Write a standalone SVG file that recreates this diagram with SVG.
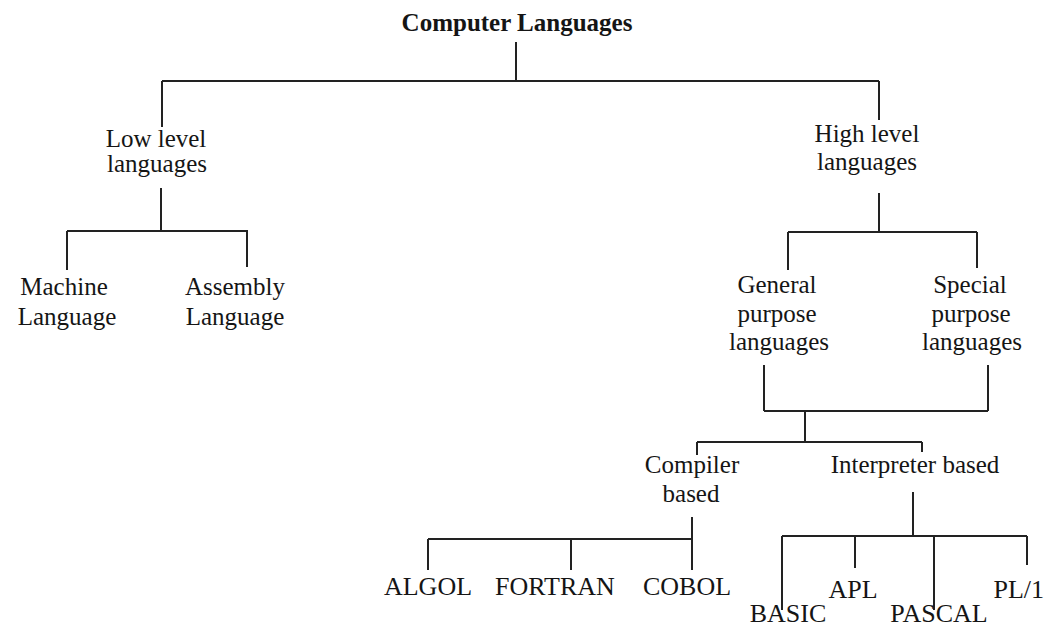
<svg xmlns="http://www.w3.org/2000/svg" width="1047" height="629" viewBox="0 0 1047 629">
<style>
  .t { font-family: "Liberation Serif", "Times New Roman", serif; font-size: 25px; fill: #151515; text-anchor: middle; }
  .b { font-weight: bold; }
  .u { font-size: 26px; }
  .e { text-anchor: end; }
  .c { fill: none; stroke: #222; stroke-width: 2; }
</style>
<rect width="1047" height="629" fill="#ffffff"/>
<g id="connectors">
  <path class="c" d="M516 42 V81 M162 81 H879 M162 81 V127 M879 81 V120"/>
  <path class="c" d="M161 188 V231 M67 231 H248 M67 231 V270 M247 231 V267"/>
  <path class="c" d="M879 193 V232 M788 232 H977 M788 232 V270 M977 232 V268"/>
  <path class="c" d="M764 365 V411 M988 365 V411 M764 411 H988 M805 411 V442 M697 442 H922 M697 442 V455 M922 442 V452"/>
  <path class="c" d="M692 517 V570 M428 539 H692 M428 539 V570 M571 539 V570"/>
  <path class="c" d="M913 492 V536 M782 536 H1027 M782 536 V610 M855 536 V568 M934 536 V610 M1027 536 V565"/>
</g>
<g id="root"><text class="t b" x="517" y="31">Computer Languages</text></g>
<g id="low"><text class="t" x="156" y="147">Low level</text><text class="t" x="157" y="172">languages</text></g>
<g id="high"><text class="t" x="867" y="142">High level</text><text class="t" x="867" y="170">languages</text></g>
<g id="machine"><text class="t" x="64" y="295">Machine</text><text class="t" x="67" y="325">Language</text></g>
<g id="assembly"><text class="t" x="235" y="295">Assembly</text><text class="t" x="235" y="325">Language</text></g>
<g id="general"><text class="t" x="777" y="293">General</text><text class="t" x="777" y="322">purpose</text><text class="t" x="779" y="350">languages</text></g>
<g id="special"><text class="t" x="970" y="293">Special</text><text class="t" x="971" y="322">purpose</text><text class="t" x="972" y="350">languages</text></g>
<g id="compiler"><text class="t" x="692" y="473">Compiler</text><text class="t" x="691" y="502">based</text></g>
<g id="interpreter"><text class="t" x="915" y="473">Interpreter based</text></g>
<g id="algol"><text class="t u" x="428" y="595">ALGOL</text></g>
<g id="fortran"><text class="t u" x="555" y="595">FORTRAN</text></g>
<g id="cobol"><text class="t u" x="687" y="595">COBOL</text></g>
<g id="apl"><text class="t u" x="853" y="598">APL</text></g>
<g id="pl1"><text class="t u e" x="1044" y="598">PL/1</text></g>
<g id="basic"><text class="t u" x="788" y="622">BASIC</text></g>
<g id="pascal"><text class="t u" x="939" y="622">PASCAL</text></g>
</svg>
